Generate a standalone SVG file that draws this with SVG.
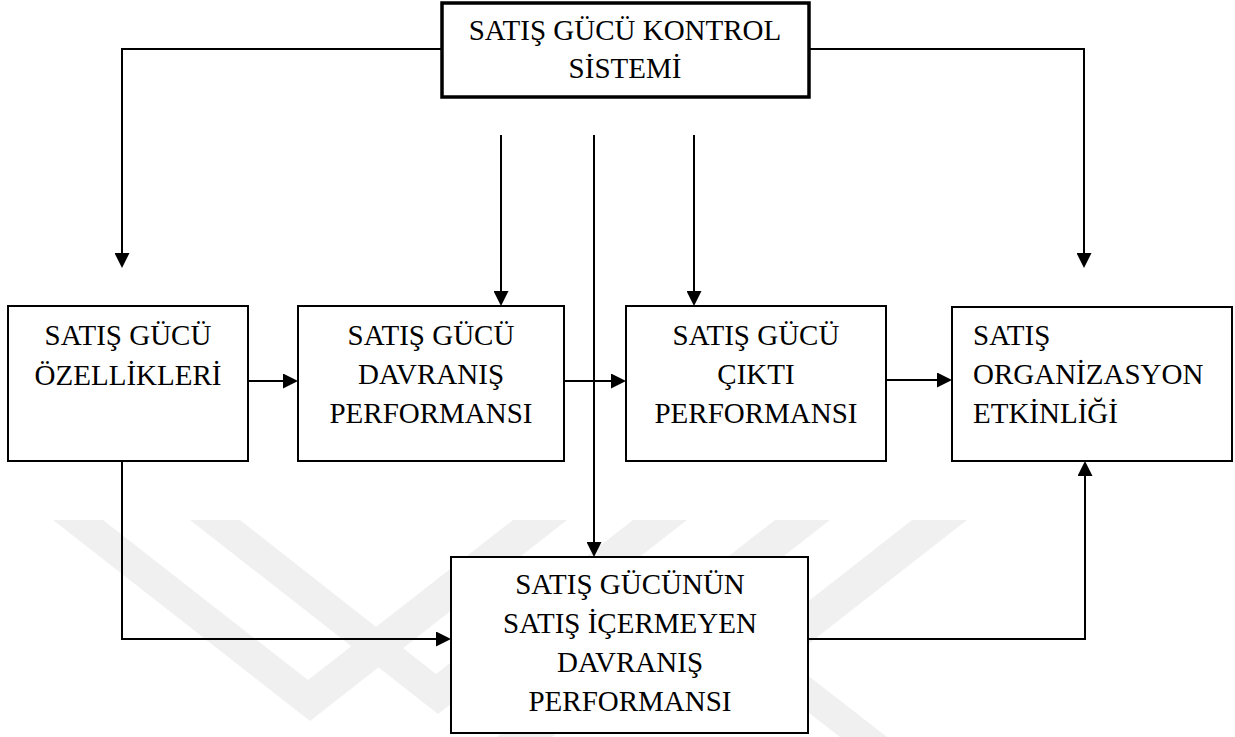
<svg xmlns="http://www.w3.org/2000/svg" width="1235" height="737" viewBox="0 0 1235 737">
  <style>
    .box { fill: #ffffff; stroke: #000000; stroke-width: 2; }
    .box-main { fill: #ffffff; stroke: #000000; stroke-width: 3.5; }
    .lbl { font-family: "Liberation Serif", "Times New Roman", serif; font-size: 29px; fill: #000000; }
    .mid { text-anchor: middle; }
    .conn { fill: none; stroke: #000000; stroke-width: 2; marker-end: url(#arrow); }
    .wm { fill: #f0f0f0; stroke: none; }
  </style>
  <defs>
    <marker id="arrow" markerUnits="userSpaceOnUse" markerWidth="16" markerHeight="15" refX="0" refY="7.5" orient="auto">
      <path d="M0,0 L15,7.5 L0,15 Z" fill="#000000"/>
    </marker>
  </defs>

  <rect x="0" y="0" width="1235" height="737" fill="#ffffff"/>

  <!-- faint background watermark bands -->
  <g id="watermark">
    <polygon class="wm" points="53,520 103,520 308,680 513,520 567,520 310,721"/>
    <polygon class="wm" points="190,520 240,520 436,674 633,520 687,520 438,714"/>
    <polygon class="wm" points="775,520 830,520 552,737 497,737"/>
    <polygon class="wm" points="912,520 967,520 788,660 887,737 840,737 737,657"/>
  </g>

  <!-- connectors -->
  <g id="connectors">
    <polyline class="conn" points="442,49 122,49 122,253"/>
    <polyline class="conn" points="808,49 1084,49 1084,253"/>
    <line class="conn" x1="501" y1="135" x2="501" y2="291"/>
    <line class="conn" x1="594" y1="135" x2="594" y2="542"/>
    <line class="conn" x1="694" y1="135" x2="694" y2="291"/>
    <line class="conn" x1="248" y1="381" x2="283" y2="381"/>
    <line class="conn" x1="564" y1="381" x2="611" y2="381"/>
    <line class="conn" x1="886" y1="380" x2="937" y2="380"/>
    <polyline class="conn" points="122,461 122,639 436,639"/>
    <polyline class="conn" points="808,639 1085,639 1085,476"/>
  </g>

  <g id="node-kontrol">
    <rect class="box-main" x="442" y="3" width="367" height="94"/>
    <text class="lbl mid" x="625" y="40">SATIŞ GÜCÜ KONTROL</text>
    <text class="lbl mid" x="625" y="78">SİSTEMİ</text>
  </g>

  <g id="node-ozellikler">
    <rect class="box" x="8" y="306" width="240" height="155"/>
    <text class="lbl mid" x="128" y="345">SATIŞ GÜCÜ</text>
    <text class="lbl mid" x="128" y="385">ÖZELLİKLERİ</text>
  </g>

  <g id="node-davranis">
    <rect class="box" x="298" y="306" width="266" height="155"/>
    <text class="lbl mid" x="431" y="345">SATIŞ GÜCÜ</text>
    <text class="lbl mid" x="431" y="384">DAVRANIŞ</text>
    <text class="lbl mid" x="431" y="423">PERFORMANSI</text>
  </g>

  <g id="node-cikti">
    <rect class="box" x="626" y="306" width="260" height="155"/>
    <text class="lbl mid" x="756" y="345">SATIŞ GÜCÜ</text>
    <text class="lbl mid" x="756" y="384">ÇIKTI</text>
    <text class="lbl mid" x="756" y="423">PERFORMANSI</text>
  </g>

  <g id="node-etkinlik">
    <rect class="box" x="952" y="307" width="280" height="154"/>
    <text class="lbl" x="973" y="345">SATIŞ</text>
    <text class="lbl" x="973" y="384">ORGANİZASYON</text>
    <text class="lbl" x="973" y="423">ETKİNLİĞİ</text>
  </g>

  <g id="node-satis-icermeyen">
    <rect class="box" x="451" y="557" width="357" height="176"/>
    <text class="lbl mid" x="630" y="594">SATIŞ GÜCÜNÜN</text>
    <text class="lbl mid" x="630" y="633">SATIŞ İÇERMEYEN</text>
    <text class="lbl mid" x="630" y="672">DAVRANIŞ</text>
    <text class="lbl mid" x="630" y="711">PERFORMANSI</text>
  </g>
</svg>
